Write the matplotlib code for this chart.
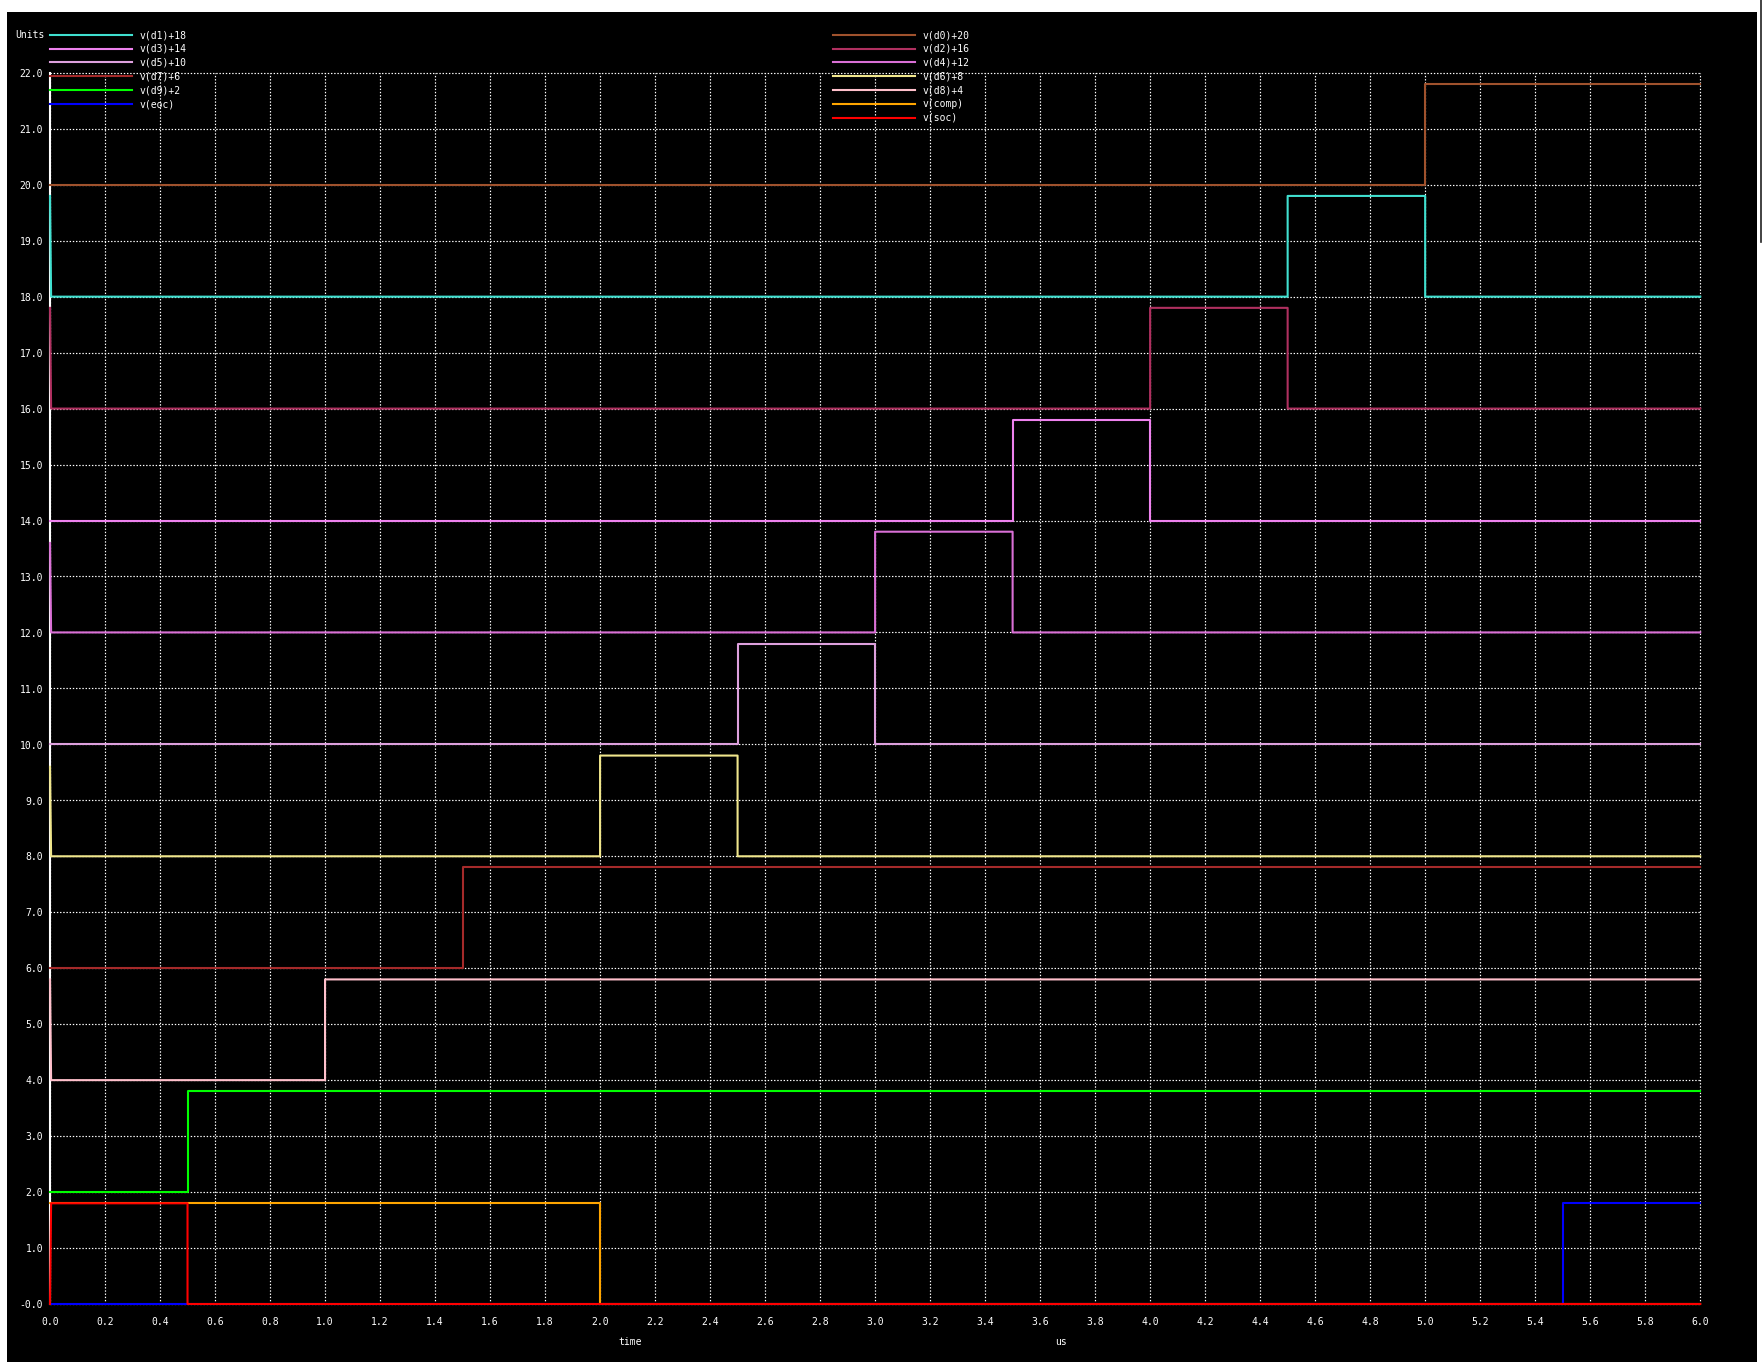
import numpy as np
import matplotlib
matplotlib.use("Agg")
import matplotlib.pyplot as plt
from matplotlib.lines import Line2D
from matplotlib.patches import Rectangle

W, H = 1762, 1366

# transient data (time in us, voltage in V)
time_d0 = [0, 5.0, 5.0, 6.0]
v_d0 = [0, 0, 1.8, 1.8]
time_d1 = [0, 0.004, 4.5, 4.5, 5.0, 5.0, 6.0]
v_d1 = [1.8, 0, 0, 1.8, 1.8, 0, 0]
time_d2 = [0, 0.004, 4.0, 4.0, 4.5, 4.5, 6.0]
v_d2 = [1.8, 0, 0, 1.8, 1.8, 0, 0]
time_d3 = [0, 3.5, 3.5, 4.0, 4.0, 6.0]
v_d3 = [0, 0, 1.8, 1.8, 0, 0]
time_d4 = [0, 0.004, 3.0, 3.0, 3.5, 3.5, 6.0]
v_d4 = [1.6, 0, 0, 1.8, 1.8, 0, 0]
time_d5 = [0, 2.5, 2.5, 3.0, 3.0, 6.0]
v_d5 = [0, 0, 1.8, 1.8, 0, 0]
time_d6 = [0, 0.004, 2.0, 2.0, 2.5, 2.5, 6.0]
v_d6 = [1.6, 0, 0, 1.8, 1.8, 0, 0]
time_d7 = [0, 1.5, 1.5, 6.0]
v_d7 = [0, 0, 1.8, 1.8]
time_d8 = [0, 0.004, 1.0, 1.0, 6.0]
v_d8 = [1.8, 0, 0, 1.8, 1.8]
time_d9 = [0, 0.5, 0.5, 6.0]
v_d9 = [0, 0, 1.8, 1.8]
time_comp = [0, 2.0, 2.0, 6.0]
v_comp = [1.8, 1.8, 0, 0]
time_eoc = [0, 5.5, 5.5, 6.0]
v_eoc = [0, 0, 1.8, 1.8]
time_soc = [0, 0.004, 0.5, 0.5, 6.0]
v_soc = [0, 1.8, 1.8, 0, 0]

# plot order as in the ngspice command
labels = ["v(d0)+20", "v(d1)+18", "v(d2)+16", "v(d3)+14", "v(d4)+12",
          "v(d5)+10", "v(d6)+8", "v(d7)+6", "v(d8)+4", "v(d9)+2",
          "v(comp)", "v(eoc)", "v(soc)"]
offsets = [20, 18, 16, 14, 12, 10, 8, 6, 4, 2, 0, 0, 0]
times = [time_d0, time_d1, time_d2, time_d3, time_d4, time_d5, time_d6,
         time_d7, time_d8, time_d9, time_comp, time_eoc, time_soc]
values = [v_d0, v_d1, v_d2, v_d3, v_d4, v_d5, v_d6,
          v_d7, v_d8, v_d9, v_comp, v_eoc, v_soc]
colors = ["#a0522d", "#40e0d0", "#b03060", "#ee82ee", "#da70d6",
          "#dda0dd", "#f0e68c", "#a52a2a", "#ffc0cb", "#00ff00",
          "#ffa500", "#0000ff", "#ff0000"]

xticks = np.round(np.arange(0, 6.01, 0.2), 1)
yticks = np.arange(0, 23, 1)
ytick_labels = [f"{v:.1f}" for v in yticks]
ytick_labels[0] = "-0.0"

FONT = "DejaVu Sans Mono"
FS = 7


def fx(px):
    return px / W


def fy(py):
    return 1 - py / H


fig = plt.figure(figsize=(W / 100 + 0.002, H / 100 + 0.002), dpi=100)
fig.patch.set_facecolor("white")
fig.patches.append(Rectangle((fx(7), fy(1362)), fx(1757) - fx(7), fy(12) - fy(1362),
                             transform=fig.transFigure, facecolor="black",
                             edgecolor="none", zorder=-10))
fig.add_artist(Line2D([fx(1760.5), fx(1760.5)], [fy(0), fy(242)], color="#222222", lw=1.2))

ax = fig.add_axes([fx(50), fy(1304), fx(1700) - fx(50), fy(73) - fy(1304)])
ax.set_facecolor("none")
for s in ax.spines.values():
    s.set_visible(False)
ax.set_xlim(0, 6)
ax.set_ylim(0, 22)
ax.set_xticks(xticks)
ax.set_xticklabels([f"{v:.1f}" for v in xticks])
ax.set_yticks(yticks)
ax.set_yticklabels(ytick_labels)
ax.tick_params(colors="white", length=0, labelsize=FS, pad=5)
ax.tick_params(axis="x", pad=9)
for lab in ax.get_xticklabels() + ax.get_yticklabels():
    lab.set_family(FONT)
ax.grid(True, color="white", lw=0.85, linestyle=(0, (1.2, 1.5)))
for gl in ax.get_xgridlines() + ax.get_ygridlines():
    gl.set_clip_on(False)
ax.axvline(0, color="white", lw=1.5, zorder=1.5, clip_on=False)

for t, v, off, c in zip(times, values, offsets, colors):
    ax.plot(t, np.array(v) + off, color=c, lw=1.5, zorder=2, clip_on=False)

# legend, ngspice style: alternating right / left columns
fig.text(fx(45), fy(35), "Units", color="white", fontsize=FS, family=FONT,
         ha="right", va="center")
for i, (lab, c) in enumerate(zip(labels, colors)):
    row = i // 2
    y = fy(35 + 13.8 * row)
    if i % 2 == 0:
        x0, x1, xt = 833, 915, 922
    else:
        x0, x1, xt = 50, 132, 139
    fig.add_artist(Line2D([fx(x0), fx(x1)], [y, y], color=c, lw=1.5))
    fig.text(fx(xt), y, lab, color="white", fontsize=FS, family=FONT,
             ha="left", va="center")

fig.text(fx(630), fy(1342), "time", color="white", fontsize=FS, family=FONT,
         ha="center", va="center")
fig.text(fx(1061), fy(1342), "us", color="white", fontsize=FS, family=FONT,
         ha="center", va="center")

fig.savefig("out.png", dpi=100, facecolor=fig.get_facecolor())
